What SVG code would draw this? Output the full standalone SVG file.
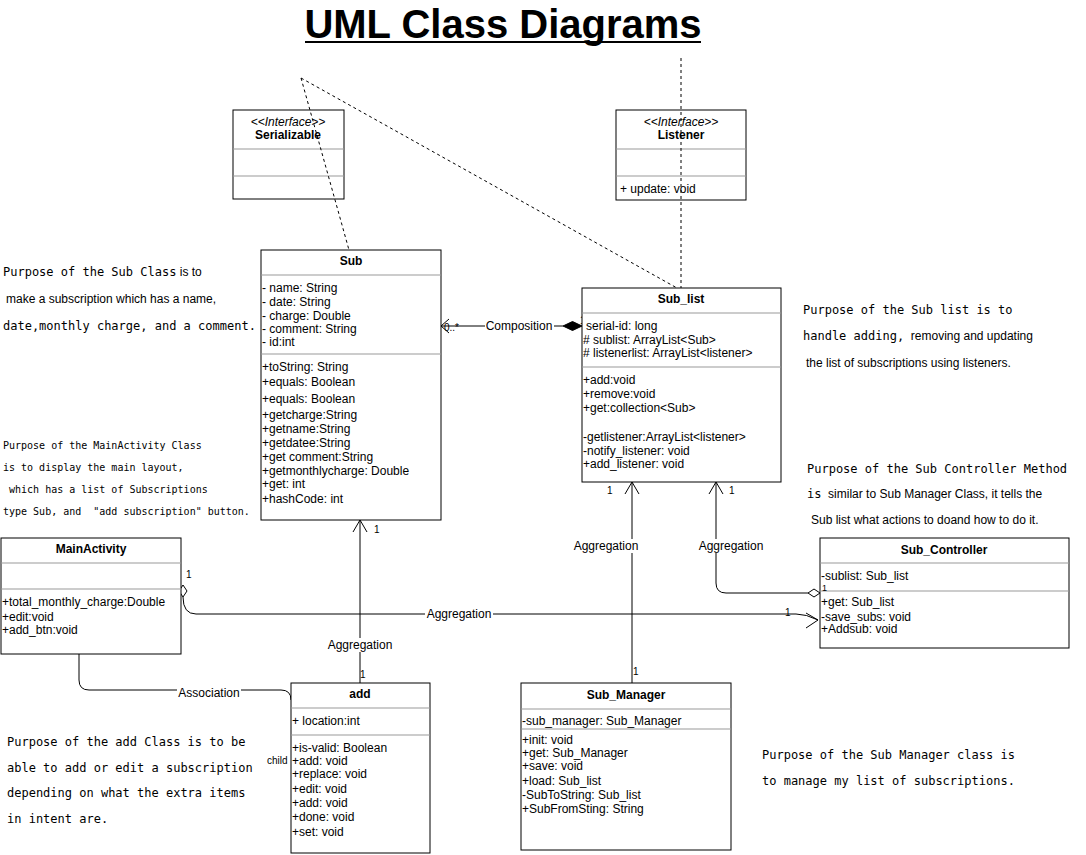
<svg xmlns="http://www.w3.org/2000/svg" width="1086" height="855" viewBox="0 0 1086 855">
<style>
.box{fill:#fff;stroke:#000;stroke-width:1}
.div{stroke:#999;stroke-width:1}
.t{font-family:"Liberation Sans",Arial,sans-serif;font-size:12px;fill:#000}
.b{font-weight:bold;text-anchor:middle}
.i{font-style:italic;text-anchor:middle}
.m{font-family:"DejaVu Sans Mono","Liberation Mono",monospace;font-size:12px;fill:#000}
.m10{font-family:"DejaVu Sans Mono","Liberation Mono",monospace;font-size:10px;fill:#000}
.s{font-family:"Liberation Sans",Arial,sans-serif;font-size:12px;fill:#000}
.sm{font-family:"Liberation Sans",Arial,sans-serif;font-size:10px;fill:#000}
.ln{fill:none;stroke:#000;stroke-width:1}
.dash{fill:none;stroke:#000;stroke-width:1;stroke-dasharray:3,3}
.lbl{font-family:"Liberation Sans",Arial,sans-serif;font-size:12px;fill:#000;text-anchor:middle}
</style>
<rect width="1086" height="855" fill="#fff"/>
<text x="503" y="38" text-anchor="middle" style="font-family:'Liberation Sans',Arial,sans-serif;font-size:40px;font-weight:bold">UML Class Diagrams</text>
<line x1="305" y1="42" x2="701" y2="42" stroke="#000" stroke-width="2"/>

<g id="serializable">
<rect class="box" x="233" y="110" width="111" height="89"/>
<line class="div" x1="233" y1="149" x2="344" y2="149"/>
<line class="div" x1="233" y1="176" x2="344" y2="176"/>
<text class="t i" x="288" y="126">&lt;&lt;Interface&gt;&gt;</text>
<text class="t b" x="288" y="139">Serializable</text>
</g>

<g id="listener">
<rect class="box" x="616" y="110" width="130" height="90"/>
<line class="div" x1="616" y1="149" x2="746" y2="149"/>
<line class="div" x1="616" y1="176" x2="746" y2="176"/>
<text class="t i" x="681" y="126">&lt;&lt;Interface&gt;&gt;</text>
<text class="t b" x="681" y="139">Listener</text>
<text class="t" x="620" y="193">+ update: void</text>
</g>

<g id="connectors">
<line class="dash" x1="301" y1="78" x2="349" y2="250"/>
<line class="dash" x1="301" y1="78" x2="677" y2="288"/>
<line class="dash" x1="681" y1="58" x2="681" y2="288"/>
<line class="ln" x1="442" y1="326" x2="563" y2="326"/>
<polygon points="563,326 572.5,321.5 582,326 572.5,330.5" fill="#000" stroke="#000"/>
<polyline class="ln" points="449,319 441,326 449,333"/>
<rect x="485" y="319" width="69" height="14" fill="#fff"/>
<text class="lbl" x="519" y="330">Composition</text>
<text class="sm" x="444" y="331">0..*</text>
<text class="sm" x="580" y="324">1</text>
<line class="ln" x1="360" y1="520" x2="360" y2="683"/>
<polyline class="ln" points="353,532 360,520 367,532"/>
<text class="sm" x="374" y="533">1</text>
<rect x="326" y="638" width="68" height="14" fill="#fff"/>
<text class="lbl" x="360" y="649">Aggregation</text>
<text class="sm" x="360" y="678">1</text>
<line class="ln" x1="632" y1="482" x2="632" y2="683"/>
<polyline class="ln" points="625,494 632,482 639,494"/>
<text class="sm" x="607" y="494">1</text>
<rect x="572" y="539" width="68" height="14" fill="#fff"/>
<text class="lbl" x="606" y="550">Aggregation</text>
<text class="sm" x="633" y="675">1</text>
<path class="ln" d="M808,593 H726 Q716,593 716,583 V482"/>
<polyline class="ln" points="709,494 716,482 723,494"/>
<polygon points="808,593 814,589 820,593 814,597" fill="#fff" stroke="#000"/>
<text class="sm" x="729" y="494">1</text>
<rect x="697" y="539" width="68" height="14" fill="#fff"/>
<text class="lbl" x="731" y="550">Aggregation</text>
<path class="ln" d="M183,597 Q183,614 196,614 H796 Q806,614 818,620"/>
<polyline class="ln" points="806,613 818,620 806,628"/>
<polygon points="179,591 183,585 187,591 183,597" fill="#fff" stroke="#000"/>
<text class="sm" x="186" y="578">1</text>
<rect x="425" y="607" width="68" height="14" fill="#fff"/>
<text class="lbl" x="459" y="618">Aggregation</text>
<text class="sm" x="785" y="616">1</text>
<path class="ln" d="M79,654 V680 Q79,690 89,690 H281 Q291,690 291,700"/>
<rect x="177" y="686" width="64" height="14" fill="#fff"/>
<text class="lbl" x="209" y="697">Association</text>
<text class="sm" x="95" y="650" text-anchor="middle">parent</text>
<text class="sm" x="267" y="764">child</text>
</g>

<g id="sub">
<rect class="box" x="261" y="250" width="180" height="270"/>
<line class="div" x1="261" y1="275" x2="441" y2="275"/>
<line class="div" x1="261" y1="354" x2="441" y2="354"/>
<text class="t b" x="351" y="265">Sub</text>
<text class="t" x="262" y="292">- name: String</text>
<text class="t" x="262" y="306">- date: String</text>
<text class="t" x="262" y="320">- charge: Double</text>
<text class="t" x="262" y="333">- comment: String</text>
<text class="t" x="262" y="346">- id:int</text>
<text class="t" x="262" y="371">+toString: String</text>
<text class="t" x="262" y="386">+equals: Boolean</text>
<text class="t" x="262" y="403">+equals: Boolean</text>
<text class="t" x="262" y="419">+getcharge:String</text>
<text class="t" x="262" y="433">+getname:String</text>
<text class="t" x="262" y="447">+getdatee:String</text>
<text class="t" x="262" y="461">+get comment:String</text>
<text class="t" x="262" y="475">+getmonthlycharge: Double</text>
<text class="t" x="262" y="488">+get: int</text>
<text class="t" x="262" y="503">+hashCode: int</text>
</g>

<g id="sub_list">
<rect class="box" x="582" y="288" width="199" height="194"/>
<line class="div" x1="582" y1="313" x2="781" y2="313"/>
<line class="div" x1="582" y1="367" x2="781" y2="367"/>
<text class="t b" x="681" y="303">Sub_list</text>
<text class="t" x="586" y="330">serial-id: long</text>
<text class="t" x="583" y="344"># sublist: ArrayList&lt;Sub&gt;</text>
<text class="t" x="583" y="357"># listenerlist: ArrayList&lt;listener&gt;</text>
<text class="t" x="583" y="384">+add:void</text>
<text class="t" x="583" y="398">+remove:void</text>
<text class="t" x="583" y="412">+get:collection&lt;Sub&gt;</text>
<text class="t" x="583" y="441">-getlistener:ArrayList&lt;listener&gt;</text>
<text class="t" x="583" y="455">-notify_listener: void</text>
<text class="t" x="583" y="468">+add_listener: void</text>
</g>

<g id="mainactivity">
<rect class="box" x="1" y="538" width="180" height="116"/>
<line class="div" x1="1" y1="563" x2="181" y2="563"/>
<line class="div" x1="1" y1="589" x2="181" y2="589"/>
<text class="t b" x="91" y="553">MainActivity</text>
<text class="t" x="2" y="606">+total_monthly_charge:Double</text>
<text class="t" x="2" y="621">+edit:void</text>
<text class="t" x="2" y="634">+add_btn:void</text>
</g>

<g id="sub_controller">
<rect class="box" x="820" y="538" width="249" height="110"/>
<line class="div" x1="820" y1="563" x2="1069" y2="563"/>
<line class="div" x1="820" y1="591" x2="1069" y2="591"/>
<text class="t b" x="944" y="554">Sub_Controller</text>
<text class="t" x="821" y="580">-sublist: Sub_list</text>
<text x="822" y="591" style="font-family:'Liberation Sans',Arial,sans-serif;font-size:9px">1</text>
<text class="t" x="821" y="606">+get: Sub_list</text>
<text class="t" x="821" y="621">-save_subs: void</text>
<text class="t" x="821" y="633">+Addsub: void</text>
</g>

<g id="add">
<rect class="box" x="291" y="683" width="139" height="170"/>
<line class="div" x1="291" y1="708" x2="430" y2="708"/>
<line class="div" x1="291" y1="735" x2="430" y2="735"/>
<text class="t b" x="360" y="698">add</text>
<text class="t" x="292" y="725">+ location:int</text>
<text class="t" x="292" y="752">+is-valid: Boolean</text>
<text class="t" x="292" y="765">+add: void</text>
<text class="t" x="292" y="778">+replace: void</text>
<text class="t" x="292" y="793">+edit: void</text>
<text class="t" x="292" y="807">+add: void</text>
<text class="t" x="292" y="821">+done: void</text>
<text class="t" x="292" y="836">+set: void</text>
</g>

<g id="sub_manager">
<rect class="box" x="521" y="683" width="210" height="167"/>
<line class="div" x1="521" y1="709" x2="731" y2="709"/>
<line class="div" x1="521" y1="729" x2="731" y2="729"/>
<text class="t b" x="626" y="699">Sub_Manager</text>
<text class="t" x="522" y="725">-sub_manager: Sub_Manager</text>
<text class="t" x="522" y="744">+init: void</text>
<text class="t" x="522" y="757">+get: Sub_Manager</text>
<text class="t" x="522" y="770">+save: void</text>
<text class="t" x="522" y="785">+load: Sub_list</text>
<text class="t" x="522" y="799">-SubToString: Sub_list</text>
<text class="t" x="522" y="813">+SubFromSting: String</text>
</g>

<g id="notes">
<text x="3" y="276"><tspan class="m">Purpose of the Sub Class</tspan><tspan class="s"> is to</tspan></text>
<text class="s" x="6" y="303">make a subscription which has a name,</text>
<text class="m" x="3" y="330">date,monthly charge, and a comment.</text>

<text class="m10" x="3" y="449">Purpose of the MainActivity Class</text>
<text class="m10" x="3" y="471">is to display the main layout,</text>
<text class="m10" x="3" y="493" xml:space="preserve"> which has a list of Subscriptions</text>
<text class="m10" x="3" y="515" xml:space="preserve">type Sub, and  "add subscription" button.</text>

<text class="m" x="803" y="314">Purpose of the Sub list is to</text>
<text x="803" y="340"><tspan class="m">handle adding,</tspan><tspan class="s" xml:space="preserve">  removing and updating</tspan></text>
<text class="s" x="806" y="367">the list of subscriptions using listeners.</text>

<text class="m" x="807" y="473">Purpose of the Sub Controller Method</text>
<text x="807" y="498"><tspan class="m">is</tspan><tspan class="s" xml:space="preserve">  similar to Sub Manager Class, it tells the</tspan></text>
<text class="s" x="811" y="524">Sub list what actions to doand how to do it.</text>

<text class="m" x="7" y="746">Purpose of the add Class is to be</text>
<text class="m" x="7" y="772">able to add or edit a subscription</text>
<text class="m" x="7" y="797">depending on what the extra items</text>
<text class="m" x="7" y="823">in intent are.</text>

<text class="m" x="762" y="759">Purpose of the Sub Manager class is</text>
<text class="m" x="762" y="785">to manage my list of subscriptions.</text>
</g>
</svg>
